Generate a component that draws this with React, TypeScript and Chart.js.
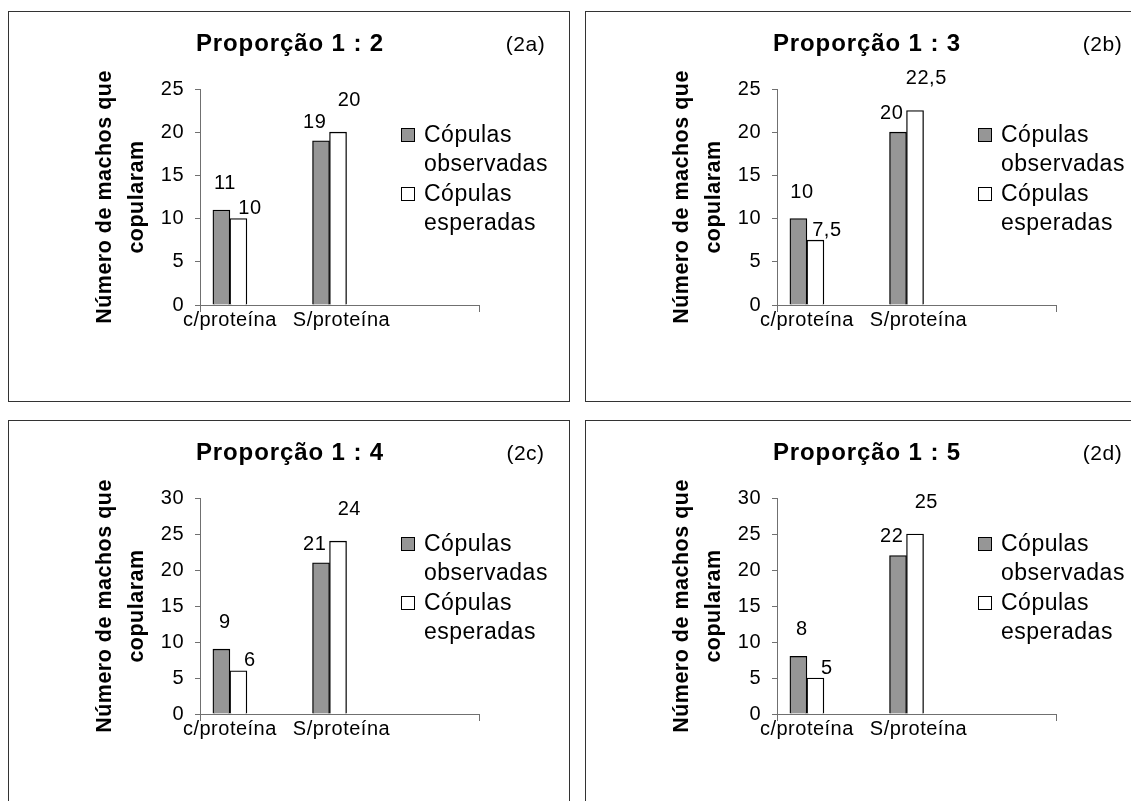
import React, { useEffect, useRef } from 'react';
import { Chart, registerables } from 'chart.js';

Chart.register(...registerables);

// ---------- data ----------
const categories = ['c/proteína', 'S/proteína'];
const seriesLabels = ['Cópulas observadas', 'Cópulas esperadas'];
const panelTitles = ['Proporção 1 : 2', 'Proporção 1 : 3', 'Proporção 1 : 4', 'Proporção 1 : 5'];
const panelTags = ['(2a)', '(2b)', '(2c)', '(2d)'];
const yAxisTitle = ['Número de machos que', 'copularam'];

const observed2a = [11, 19];
const expected2a = [10, 20];
const observed2b = [10, 20];
const expected2b = [7.5, 22.5];
const observed2c = [9, 21];
const expected2c = [6, 24];
const observed2d = [8, 22];
const expected2d = [5, 25];

const yMax2a = 25;
const yMax2b = 25;
const yMax2c = 30;
const yMax2d = 30;
const yTickStep = 5;

// ---------- styles ----------
const FONT = "'Liberation Sans', Arial, Helvetica, sans-serif";
const AXIS = '#707070';
const GREY = '#969696';
const W = 560;
const H = 389;
const SPACING = '0.5px';
// horizontal nudge of each category label relative to its bar group (in category units)
const labelShift = [0, 0.12];

const panels = [
  { title: panelTitles[0], tag: panelTags[0], obs: observed2a, exp: expected2a, yMax: yMax2a, left: 8, top: 11 },
  { title: panelTitles[1], tag: panelTags[1], obs: observed2b, exp: expected2b, yMax: yMax2b, left: 585, top: 11 },
  { title: panelTitles[2], tag: panelTags[2], obs: observed2c, exp: expected2c, yMax: yMax2c, left: 8, top: 420 },
  { title: panelTitles[3], tag: panelTags[3], obs: observed2d, exp: expected2d, yMax: yMax2d, left: 585, top: 420 },
];

const fmt = (v: number) => String(v).replace('.', ',');

const spacingPlugin = {
  id: 'letterSpacing',
  afterInit(chart: any) {
    chart.ctx.letterSpacing = SPACING;
  },
  beforeUpdate(chart: any) {
    chart.ctx.letterSpacing = SPACING;
  },
  beforeDraw(chart: any) {
    chart.ctx.letterSpacing = SPACING;
  },
};

const valueLabelPlugin = {
  id: 'valueLabels',
  afterDatasetsDraw(chart: any, _args: any, opts: any) {
    const ctx = chart.ctx;
    ctx.save();
    ctx.font = `${opts.size}px ${FONT}`;
    ctx.fillStyle = '#000';
    ctx.textAlign = 'center';
    ctx.textBaseline = 'alphabetic';
    chart.data.datasets.forEach((ds: any, di: number) => {
      const meta = chart.getDatasetMeta(di);
      meta.data.forEach((bar: any, i: number) => {
        const off = opts.offsets[di][i];
        const v = ds.data[i].y;
        ctx.fillText(fmt(v), bar.x + off.dx, bar.y - off.gap);
      });
    });
    ctx.restore();
  },
};

const wrapLegendPlugin = {
  id: 'wrapLegend',
  afterDraw(chart: any, _args: any, opts: any) {
    const ctx = chart.ctx;
    ctx.save();
    ctx.font = `${opts.size}px ${FONT}`;
    ctx.textAlign = 'left';
    ctx.textBaseline = 'alphabetic';
    chart.data.datasets.forEach((ds: any, i: number) => {
      const top = opts.y + i * opts.entryGap;
      ctx.fillStyle = ds.backgroundColor;
      ctx.fillRect(opts.x, top, opts.box, opts.box);
      ctx.strokeStyle = '#000';
      ctx.lineWidth = 1;
      ctx.strokeRect(opts.x + 0.5, top + 0.5, opts.box - 1, opts.box - 1);
      const words = String(ds.label).split(' ');
      const lines = [words[0], words.slice(1).join(' ')];
      ctx.fillStyle = '#000';
      lines.forEach((ln, k) => ctx.fillText(ln, opts.textX, top + opts.box + k * opts.lineGap));
    });
    ctx.restore();
  },
};

const headerPlugin = {
  id: 'header',
  afterDraw(chart: any, _args: any, opts: any) {
    const ctx = chart.ctx;
    ctx.save();
    ctx.fillStyle = '#000';
    ctx.textAlign = 'center';
    ctx.textBaseline = 'alphabetic';
    ctx.font = `bold ${opts.titleSize}px ${FONT}`;
    ctx.letterSpacing = opts.titleSpacing;
    ctx.fillText(opts.title, opts.titleX, opts.baseline);
    ctx.font = `${opts.tagSize}px ${FONT}`;
    ctx.letterSpacing = SPACING;
    ctx.fillText(opts.tag, opts.tagX, opts.baseline);
    ctx.restore();
  },
};

function Panel({ p }: { p: typeof panels[number] }) {
  const ref = useRef<HTMLCanvasElement>(null);
  useEffect(() => {
    const xMin = -0.3;
    const xMax = 2.5;
    const labelValues = categories.map((_, i) => i + labelShift[i]);
    const tickValues = [xMin, ...labelValues, xMax];
    const labelFor = (v: number) => {
      const i = labelValues.findIndex((lv) => Math.abs(lv - v) < 1e-6);
      return i >= 0 ? categories[i] : '';
    };
    const chart = new Chart(ref.current as HTMLCanvasElement, {
      type: 'bar',
      data: {
        datasets: [
          {
            label: seriesLabels[0],
            data: categories.map((_, i) => ({ x: i, y: p.obs[i] })),
            backgroundColor: GREY,
            borderColor: '#000',
            borderWidth: 1.3,
            barThickness: 17,
          },
          {
            label: seriesLabels[1],
            data: categories.map((_, i) => ({ x: i, y: p.exp[i] })),
            backgroundColor: '#ffffff',
            borderColor: '#000',
            borderWidth: 1.3,
            barThickness: 17,
          },
        ] as any,
      },
      plugins: [spacingPlugin, valueLabelPlugin, wrapLegendPlugin, headerPlugin],
      options: {
        responsive: false,
        animation: false,
        devicePixelRatio: 1,
        layout: { padding: { left: 92, right: 90, top: 77, bottom: 56 } },
        scales: {
          x: {
            type: 'linear',
            min: xMin,
            max: xMax,
            offset: false,
            afterBuildTicks: (s: any) => {
              s.ticks = tickValues.map((v) => ({ value: v }));
            },
            afterFit: (s: any) => {
              s.height = 40;
            },
            grid: {
              offset: false,
              drawOnChartArea: false,
              drawTicks: true,
              tickLength: 7,
              tickWidth: 1,
              tickColor: (ctx: any) =>
                ctx.tick && labelFor(ctx.tick.value) !== '' ? 'rgba(0,0,0,0)' : AXIS,
            },
            border: { color: AXIS, width: 1 },
            ticks: {
              autoSkip: false,
              maxRotation: 0,
              minRotation: 0,
              padding: -4,
              color: '#000',
              font: { family: FONT, size: 20 },
              callback: (v: any) => labelFor(v),
            },
          },
          y: {
            min: 0,
            max: p.yMax,
            afterFit: (s: any) => {
              s.width = 99;
            },
            ticks: {
              stepSize: yTickStep,
              padding: 11,
              color: '#000',
              font: { family: FONT, size: 20 },
            },
            grid: { drawOnChartArea: false, tickLength: 5, tickColor: AXIS, tickWidth: 1 },
            border: { color: AXIS, width: 1 },
            title: {
              display: true,
              text: yAxisTitle,
              color: '#000',
              font: { family: FONT, size: 21.5, weight: 'bold', lineHeight: 32 / 21.5 },
              padding: { top: -11.5, bottom: 0 },
            },
          },
        } as any,
        plugins: {
          legend: { display: false },
          tooltip: { enabled: false },
          title: { display: false },
          valueLabels: {
            size: 20,
            offsets: [
              [{ dx: 3.5, gap: 21 }, { dx: -6.3, gap: 13.3 }],
              [{ dx: 11.5, gap: 4.4 }, { dx: 11.3, gap: 26.4 }],
            ],
          },
          wrapLegend: { x: 392, y: 116, box: 14, entryGap: 59, lineGap: 29, textX: 415, size: 23 },
          header: {
            title: p.title,
            titleSize: 24,
            titleSpacing: '0.9px',
            titleX: 281,
            tag: p.tag,
            tagSize: 21,
            tagX: 516.5,
            baseline: 39,
          },
        } as any,
      },
    } as any);
    return () => chart.destroy();
  }, [p]);

  return (
    <div
      style={{
        position: 'absolute',
        left: p.left,
        top: p.top,
        width: W,
        height: H,
        border: '1px solid #333',
        background: '#fff',
      }}
    >
      <canvas ref={ref} width={W} height={H} style={{ display: 'block' }} />
    </div>
  );
}

export default function App() {
  return (
    <div
      style={{
        position: 'fixed',
        left: 0,
        top: 0,
        width: 1131,
        height: 801,
        overflow: 'hidden',
        background: '#fff',
      }}
    >
      {panels.map((p, i) => (
        <Panel key={i} p={p} />
      ))}
    </div>
  );
}
